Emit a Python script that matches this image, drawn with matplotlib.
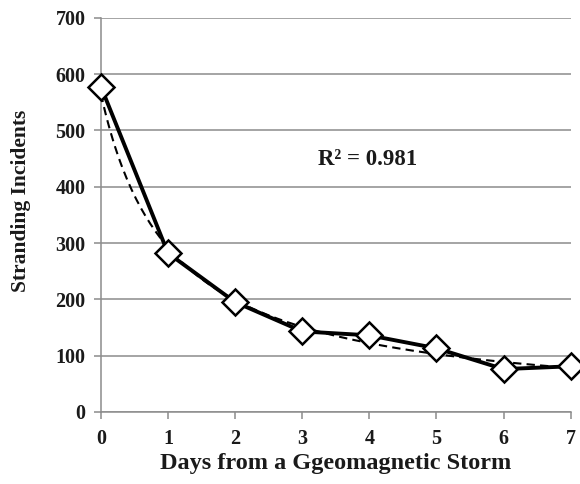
import numpy as np
import matplotlib
matplotlib.use("Agg")
import matplotlib.pyplot as plt

days = [0, 1, 2, 3, 4, 5, 6, 7]
incidents = [578, 282, 195, 143, 136, 113, 76, 81]
y_ticks = [0, 100, 200, 300, 400, 500, 600, 700]
r2_label = "R² = 0.981"

plt.rcParams['font.family'] = ['Liberation Serif', 'DejaVu Serif']
plt.rcParams['font.weight'] = 'bold'

fig = plt.figure(figsize=(5.8, 4.84), dpi=100)
ax = fig.add_axes([0.174, 0.149, 0.810, 0.814])

# power trendline (Excel-style, category index starting at 1)
xi = np.array(days, dtype=float) + 1
coef = np.polyfit(np.log(xi), np.log(incidents), 1)
xs = np.linspace(1, 8, 200)
trend = np.exp(coef[1]) * xs ** coef[0]
ax.plot(xs - 1, trend, color='black', lw=1.5, ls=(0, (4, 2.5)), zorder=3)

ax.plot(days, incidents, color='black', lw=2.8, marker='D', ms=13,
        mfc='white', mec='black', mew=1.8, zorder=4, clip_on=False)

ax.set_xlim(0, 7)
ax.set_ylim(0, 700)
ax.set_yticks(y_ticks)
ax.set_xticks(days)
ax.grid(axis='y', color='#8c8c8c', lw=1.1)
ax.set_axisbelow(True)
for s in ['top', 'right']:
    ax.spines[s].set_visible(False)
for s in ['left', 'bottom']:
    ax.spines[s].set_color('#8c8c8c')
    ax.spines[s].set_linewidth(1.1)
ax.tick_params(axis='both', colors='#8c8c8c', length=5, width=1.1,
               labelcolor='#1a1a1a', labelsize=14.5)
ax.tick_params(axis='x', pad=7)
ax.tick_params(axis='y', pad=6)
for lab in ax.get_xticklabels() + ax.get_yticklabels():
    lab.set_fontweight('bold')

ax.set_xlabel("Days from a Ggeomagnetic Storm", fontsize=17.5, fontweight='bold',
              color='#1a1a1a', labelpad=3)
ax.set_ylabel("Stranding Incidents", fontsize=15.5, fontweight='bold',
              color='#1a1a1a')
ax.yaxis.set_label_coords(-0.148, 0.535)
ax.text(3.23, 448, r2_label, fontsize=16.5, fontweight='bold', color='#1a1a1a',
        va='center', ha='left')

fig.savefig("out.png", dpi=100)
